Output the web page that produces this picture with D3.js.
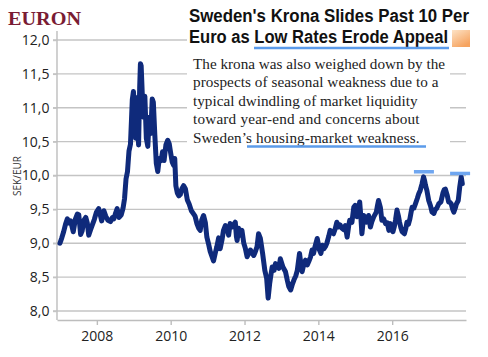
<!DOCTYPE html>
<html><head><meta charset="utf-8">
<script src="https://cdn.jsdelivr.net/npm/d3@7"></script>
<style>body{margin:0;background:#fff} svg{display:block}</style>
</head><body>
<svg id="c" width="488" height="357"></svg>
<script>
// Data: EUR/SEK (decimal year, value)
const dates = [
2007.00,2007.05,2007.10,2007.15,2007.20,2007.25,2007.29,2007.36,2007.42,2007.47,2007.51,2007.56,2007.60,2007.65,2007.70,2007.74,2007.78,2007.83,2007.87,2007.93,2007.99,
2008.05,2008.10,2008.13,2008.19,2008.24,2008.30,2008.37,2008.42,2008.46,2008.51,2008.55,2008.60,2008.66,2008.71,2008.75,2008.79,2008.83,2008.87,2008.91,2008.94,2008.96,2008.99,
2009.02,2009.05,2009.08,2009.10,2009.13,2009.16,2009.18,2009.20,2009.23,2009.27,2009.30,2009.34,2009.38,2009.42,2009.46,2009.50,2009.53,2009.57,2009.61,2009.65,2009.69,2009.74,2009.78,2009.82,2009.87,2009.92,2009.96,
2010.00,2010.04,2010.08,2010.11,2010.14,2010.18,2010.22,2010.26,2010.30,2010.35,2010.40,2010.45,2010.50,2010.56,2010.61,2010.66,2010.71,2010.76,2010.80,2010.84,2010.89,2010.94,2010.98,
2011.03,2011.07,2011.12,2011.16,2011.21,2011.25,2011.30,2011.34,2011.39,2011.43,2011.48,2011.53,2011.57,2011.61,2011.66,2011.70,2011.75,2011.78,2011.80,2011.84,2011.89,2011.93,2011.98,
2012.02,2012.07,2012.12,2012.16,2012.21,2012.25,2012.29,2012.34,2012.38,2012.43,2012.49,2012.55,2012.60,2012.64,2012.68,2012.72,2012.75,2012.80,2012.84,2012.88,2012.93,2012.97,
2013.01,2013.04,2013.11,2013.16,2013.20,2013.25,2013.30,2013.34,2013.39,2013.43,2013.49,2013.53,2013.56,2013.61,2013.65,2013.70,2013.74,2013.79,2013.83,2013.87,2013.91,2013.97,
2014.03,2014.07,2014.11,2014.15,2014.19,2014.23,2014.28,2014.32,2014.37,2014.41,2014.46,2014.50,2014.55,2014.59,2014.64,2014.69,2014.73,2014.78,2014.82,2014.85,2014.91,2014.96,
2015.00,2015.05,2015.09,2015.12,2015.15,2015.18,2015.23,2015.27,2015.30,2015.36,2015.41,2015.45,2015.50,2015.57,2015.60,2015.63,2015.68,2015.72,2015.77,2015.82,2015.87,2015.91,2015.95,
2016.02,2016.06,2016.09,2016.13,2016.17,2016.20,2016.24,2016.27,2016.33,2016.37,2016.40,2016.44,2016.48,2016.51,2016.54,2016.59,2016.63,2016.68,2016.72,2016.76,2016.81,2016.85,2016.88,2016.90,2016.94,2016.99,
2017.04,2017.08,2017.13,2017.17,2017.20,2017.26,2017.32,2017.38,2017.41,2017.44,2017.49,2017.53,2017.57,2017.60,2017.64,2017.67,2017.71,2017.74,2017.79,2017.83,2017.87,2017.90
];
const values = [
9.00,9.08,9.17,9.28,9.36,9.30,9.33,9.17,9.36,9.43,9.42,9.13,9.18,9.34,9.38,9.30,9.12,9.20,9.26,9.35,9.46,
9.51,9.40,9.33,9.48,9.40,9.34,9.32,9.38,9.36,9.45,9.51,9.38,9.42,9.52,9.66,9.95,10.06,10.36,10.46,10.85,11.12,11.24,
11.00,10.55,10.80,11.15,10.45,11.30,11.65,11.62,11.20,10.86,11.17,10.55,10.43,10.86,10.62,11.13,11.08,10.60,10.18,10.06,10.25,10.22,10.35,10.22,10.45,10.52,10.47,
10.33,10.20,10.15,10.25,9.85,9.74,9.70,9.72,9.80,9.85,9.80,9.64,9.58,9.48,9.44,9.40,9.29,9.22,9.19,9.34,9.41,9.30,9.09,
8.98,8.88,8.80,8.74,8.86,8.95,9.08,8.92,9.05,9.19,9.26,9.22,9.12,9.29,9.24,9.27,9.31,9.10,9.04,9.22,9.12,9.19,9.00,
8.93,8.80,8.86,8.90,8.85,8.82,8.87,8.95,9.14,9.07,8.85,8.60,8.48,8.19,8.40,8.55,8.65,8.60,8.70,8.66,8.63,8.77,
8.70,8.65,8.58,8.45,8.36,8.31,8.40,8.46,8.52,8.60,8.85,8.68,8.58,8.70,8.75,8.68,8.73,8.80,8.90,8.85,8.95,9.07,
8.90,8.85,8.97,8.92,8.95,9.00,9.10,9.19,9.16,9.14,9.22,9.31,9.24,9.27,9.22,9.20,9.26,9.09,9.25,9.34,9.31,9.53,
9.56,9.39,9.50,9.61,9.40,9.14,9.41,9.36,9.31,9.41,9.24,9.32,9.39,9.46,9.55,9.63,9.53,9.34,9.36,9.29,9.30,9.19,9.29,
9.17,9.25,9.34,9.49,9.40,9.31,9.22,9.17,9.14,9.22,9.31,9.28,9.36,9.45,9.53,9.52,9.58,9.66,9.73,9.78,9.88,9.98,9.92,9.86,9.78,9.63,
9.55,9.46,9.44,9.50,9.51,9.58,9.61,9.75,9.79,9.80,9.71,9.61,9.60,9.58,9.50,9.46,9.52,9.58,9.63,9.83,9.98,9.88
];
const yTicks = [8.0,8.5,9.0,9.5,10.0,10.5,11.0,11.5,12.0];
const xTicks = [2008,2010,2012,2014,2016];
const peakDates = [2016.86, 2017.84];
const peakLevels = [10.055, 10.03];
const brand = "EURON";
const yLabel = "SEK/EUR";
const titleLines = ["Sweden's Krona Slides Past 10 Per", "Euro as Low Rates Erode Appeal"];
const bodyLines = [
  "The krona was also weighed down by the",
  "prospects of seasonal weakness due to a",
  "typical dwindling of market liquidity",
  "toward year-end and concerns about",
  "Sweden\u2019s housing-market weakness."
];

const svg = d3.select("#c");
const x = d3.scaleLinear().domain([2006.92, 2018]).range([57, 466]);
const y = d3.scaleLinear().domain([8, 12]).range([311, 40]);
const loc = d3.formatLocale({decimal: ",", thousands: " ", grouping: [3], currency: ["", ""]});
const fmtY = loc.format(".1f");

const defs = svg.append("defs");
const grad = defs.append("linearGradient").attr("id","og").attr("x1",0).attr("y1",0).attr("x2",0.6).attr("y2",1);
grad.append("stop").attr("offset","0%").attr("stop-color","#fde3c6");
grad.append("stop").attr("offset","100%").attr("stop-color","#f6a35f");

// gridlines
svg.append("g").selectAll("line").data(yTicks).join("line")
  .attr("x1", 53).attr("x2", x.range()[1])
  .attr("y1", d => y(d)).attr("y2", d => y(d))
  .attr("stroke", "#c4c4c4").attr("stroke-width", 1.4);

// left axis line
svg.append("line").attr("x1", 57).attr("x2", 57).attr("y1", 31).attr("y2", 320)
  .attr("stroke", "#bdbdbd").attr("stroke-width", 1.4);

// y labels
const ya = svg.append("g").attr("transform", "translate(57,0)")
  .call(d3.axisLeft(y).tickValues(yTicks).tickSize(4).tickPadding(3.5).tickFormat(fmtY));
ya.select(".domain").remove();
ya.selectAll("line").attr("stroke", "#c4c4c4").attr("stroke-width", 1.4);
ya.selectAll("text").attr("font-family", "'Open Sans', sans-serif").attr("font-size", 14).attr("fill", "#222");

// x axis
const xa = svg.append("g").attr("transform", "translate(0,320)")
  .call(d3.axisBottom(x).tickValues(xTicks).tickSize(5).tickSizeOuter(0).tickPadding(6).tickFormat(d3.format("d")));
xa.select(".domain").attr("stroke", "#bdbdbd").attr("stroke-width", 1.4);
xa.selectAll("line").attr("stroke", "#bdbdbd").attr("stroke-width", 1.4);
xa.selectAll("text").attr("font-family", "'Open Sans', sans-serif").attr("font-size", 14).attr("fill", "#222");

// white panels for title and text
svg.append("rect").attr("x", 187).attr("y", 0).attr("width", 301).attr("height", 50).attr("fill", "#fff");
svg.append("rect").attr("x", 187).attr("y", 50).attr("width", 263).attr("height", 100).attr("fill", "#fff");

// line
const line = d3.line().x(i => x(dates[i])).y(i => y(values[i]));
svg.append("path").datum(d3.range(dates.length)).attr("d", line)
  .attr("fill", "none").attr("stroke", "#0f2a7b").attr("stroke-width", 5)
  .attr("stroke-linejoin", "round").attr("stroke-linecap", "round");

// peak markers
svg.append("g").selectAll("line").data(peakDates).join("line")
  .attr("x1", d => x(d) - 10).attr("x2", d => x(d) + 10)
  .attr("y1", (d, i) => y(peakLevels[i])).attr("y2", (d, i) => y(peakLevels[i]))
  .attr("stroke", "#6fa6f0").attr("stroke-width", 3.5);

// brand
svg.append("text").attr("x", 8).attr("y", 25).text(brand)
  .attr("font-family", "'Liberation Serif', serif").attr("font-weight", "bold")
  .attr("font-size", 18).attr("fill", "#7a1c33")
  .attr("textLength", 73).attr("lengthAdjust", "spacingAndGlyphs");

// y label
svg.append("text").attr("transform", "translate(20.5,176) rotate(-90)")
  .attr("text-anchor", "middle").text(yLabel)
  .attr("font-family", "'Open Sans', sans-serif").attr("font-size", 10).attr("fill", "#333");

// title
const tl = [280, 259];
svg.append("g").selectAll("text").data(titleLines).join("text")
  .attr("x", 189).attr("y", (d, i) => 22 + i * 20.5).text(d => d)
  .attr("font-family", "'Liberation Sans', Arial, sans-serif").attr("font-weight", "bold")
  .attr("font-size", 17.5).attr("fill", "#111")
  .attr("textLength", (d, i) => tl[i]).attr("lengthAdjust", "spacingAndGlyphs");
svg.append("line").attr("x1", 254).attr("x2", 449).attr("y1", 48).attr("y2", 48)
  .attr("stroke", "#5b9bea").attr("stroke-width", 2.5);
svg.append("rect").attr("x", 452).attr("y", 30).attr("width", 18).attr("height", 17).attr("fill", "url(#og)");

// body text
const bl = [252, 245.5, 224.5, 226.5, 226.5];
svg.append("g").selectAll("text").data(bodyLines).join("text")
  .attr("x", 193).attr("y", (d, i) => 69 + i * 18.4).text(d => d)
  .attr("font-family", "'Liberation Serif', 'Times New Roman', serif")
  .attr("font-size", 15.2).attr("fill", "#222")
  .attr("textLength", (d, i) => bl[i]).attr("lengthAdjust", "spacing");
svg.append("line").attr("x1", 247).attr("x2", 426).attr("y1", 146.5).attr("y2", 146.5)
  .attr("stroke", "#5b9bea").attr("stroke-width", 2.5);
</script>
</body></html>
